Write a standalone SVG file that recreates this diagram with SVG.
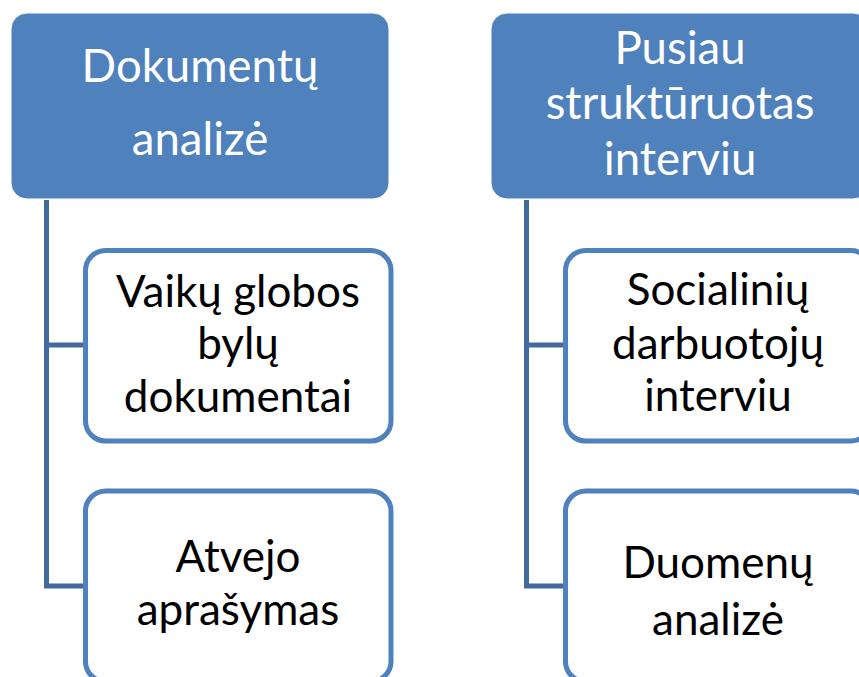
<svg xmlns="http://www.w3.org/2000/svg" width="859" height="677" viewBox="0 0 859 677">
<style>
.parent{fill:#4F81BD;stroke:#ffffff;stroke-width:1}
.child{fill:#ffffff;stroke:#4F81BD;stroke-width:5}
.conn{fill:none;stroke:#41699C;stroke-width:5;stroke-linejoin:miter}
.pt{font-family:"Lato","Liberation Sans",sans-serif;font-size:45.5px;fill:#ffffff;text-anchor:middle}
.ct{font-family:"Lato","Liberation Sans",sans-serif;font-size:44px;fill:#000000;text-anchor:middle}
</style>
<rect width="859" height="677" fill="#ffffff"/>
<g id="connectors">
<path class="conn" d="M46.5,200 V586 H85"/>
<path class="conn" d="M46.5,345 H85"/>
<path class="conn" d="M526.5,200 V586 H565"/>
<path class="conn" d="M526.5,345 H565"/>
</g>
<g id="node-dokumentu">
<rect class="parent" x="11" y="13" width="378" height="186" rx="16"/>
<text class="pt" x="200" y="82">Dokumentų</text>
<text class="pt" x="200" y="155">analizė</text>
</g>
<g id="node-pusiau">
<rect class="parent" x="491" y="13" width="378" height="186" rx="16"/>
<text class="pt" x="680" y="64">Pusiau</text>
<text class="pt" x="680" y="119">struktūruotas</text>
<text class="pt" x="680" y="175">interviu</text>
</g>
<g id="node-vaiku">
<rect class="child" x="85.5" y="250.5" width="305.5" height="190.5" rx="20"/>
<text class="ct" x="238" y="307">Vaikų globos</text>
<text class="ct" x="238" y="359">bylų</text>
<text class="ct" x="238" y="412">dokumentai</text>
</g>
<g id="node-atvejo">
<rect class="child" x="85.5" y="491" width="305.5" height="190.5" rx="20"/>
<text class="ct" x="238" y="572">Atvejo</text>
<text class="ct" x="238" y="625">aprašymas</text>
</g>
<g id="node-socialiniu">
<rect class="child" x="565.5" y="250.5" width="305.5" height="190.5" rx="20"/>
<text class="ct" x="718" y="305">Socialinių</text>
<text class="ct" x="718" y="359">darbuotojų</text>
<text class="ct" x="718" y="411">interviu</text>
</g>
<g id="node-duomenu">
<rect class="child" x="565.5" y="491" width="305.5" height="190.5" rx="20"/>
<text class="ct" x="718" y="578">Duomenų</text>
<text class="ct" x="718" y="635">analizė</text>
</g>
</svg>
